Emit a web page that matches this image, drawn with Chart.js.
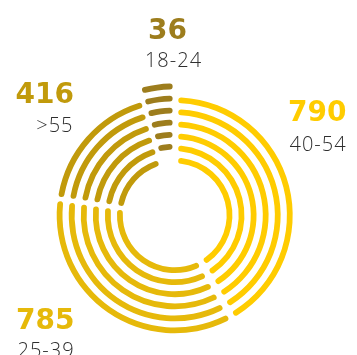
<!DOCTYPE html>
<html>
<head>
<meta charset="utf-8">
<script src="https://cdn.jsdelivr.net/npm/chart.js@4/dist/chart.umd.min.js"></script>
<style>
  html, body { margin: 0; padding: 0; background: #fff; }
  #wrap { position: relative; width: 357px; height: 355px; overflow: hidden; }
  canvas { position: absolute; left: 0; top: 0; }
  .num { position: absolute; font-family: "DejaVu Sans", sans-serif; font-weight: bold; font-size: 28px; line-height: 28px; white-space: nowrap; }
  .lab { position: absolute; font-family: "Open Sans", sans-serif; font-weight: 300; font-size: 20px; line-height: 20px; color: #2e2e2e; letter-spacing: 1px; white-space: nowrap; }
</style>
</head>
<body>
<div id="wrap">
  <canvas id="c" width="357" height="355"></canvas>
  <div id="labels"></div>
</div>
<script>
// ---- data ----
const ageGroups = ['18-24', '40-54', '25-39', '>55'];
const counts = [36, 790, 785, 416];
// share of the ring (%) taken by each group
const ringShares = [4.4, 41.9, 35.4, 18.3];
const groupColors = ['#9D7D1D', '#FFCC00', '#E6B90A', '#C19A0B'];
const ringCount = 6;

// ---- chart ----
const datasets = [];
for (let r = 0; r < ringCount; r++) {
  datasets.push({
    data: ringShares,
    backgroundColor: groupColors,
    borderWidth: 0,
    borderRadius: 3,
    spacing: 5,
    offset: [32, 0, 0, 0],
    weight: 5.8
  });
  if (r < ringCount - 1) {
    datasets.push({
      data: ringShares,
      backgroundColor: 'rgba(0,0,0,0)',
      borderWidth: 0,
      weight: 6.3
    });
  }
}

new Chart(document.getElementById('c'), {
  type: 'doughnut',
  data: { labels: ageGroups, datasets },
  options: {
    responsive: false,
    animation: false,
    events: [],
    rotation: -15.7,
    radius: 115.5,
    cutout: '42.8%',
    layout: { padding: { left: 0, right: 7.6, top: 75.6, bottom: 0 } },
    plugins: { legend: { display: false }, tooltip: { enabled: false } }
  }
});

// ---- labels ----
const labelPlaces = [
  { cls: 'center', left: 167.5, numTop: 15.5, labTop: 49.5, labLeft: 173.5 },
  { cls: 'left', left: 288, numTop: 97.5, labTop: 133.5, labLeft: 289.5 },
  { cls: 'left', left: 16, numTop: 305.5, labTop: 339.5, labLeft: 17.5 },
  { cls: 'right', right: 283, numTop: 79.5, labTop: 115, labRight: 283.5 }
];
const holder = document.getElementById('labels');
ageGroups.forEach((g, i) => {
  const p = labelPlaces[i];
  const n = document.createElement('div');
  n.className = 'num';
  n.textContent = counts[i];
  n.style.color = groupColors[i];
  n.style.top = p.numTop + 'px';
  const l = document.createElement('div');
  l.className = 'lab';
  l.textContent = g;
  l.style.top = p.labTop + 'px';
  if (p.cls === 'center') {
    n.style.left = p.left + 'px'; n.style.transform = 'translateX(-50%)';
    l.style.left = p.labLeft + 'px'; l.style.transform = 'translateX(-50%)';
  } else if (p.cls === 'left') {
    n.style.left = p.left + 'px';
    l.style.left = p.labLeft + 'px';
  } else {
    n.style.right = p.right + 'px';
    l.style.right = p.labRight + 'px';
  }
  holder.appendChild(n);
  holder.appendChild(l);
});
</script>
</body>
</html>
